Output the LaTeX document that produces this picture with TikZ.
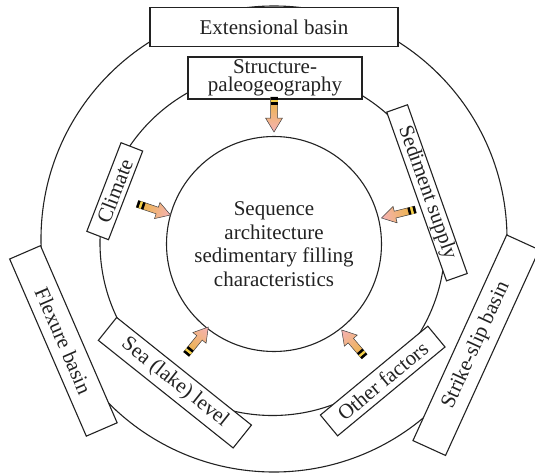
\documentclass[tikz,border=0pt]{standalone}
\usepackage{fontspec}
\setmainfont{Liberation Serif}
\definecolor{arrgold}{HTML}{EBB43A}
\definecolor{arrpeach}{HTML}{F8C48C}
\definecolor{arrpink}{HTML}{F5B2B6}
\definecolor{bandyel}{HTML}{F3D04A}
\definecolor{inkc}{HTML}{222222}
\newcommand\fatarrow[2]{%
  \begin{scope}[transform canvas={shift={(#1)},rotate=#2}]
    \shadedraw[left color=arrgold, middle color=arrpeach, right color=arrpink,
      draw=black!75, line width=0.5pt]
      (0,0) -- (-14,8.5) -- (-14,3.5) -- (-35,3.5) -- (-35,-3.5)
      -- (-14,-3.5) -- (-14,-8.5) -- cycle;
    \fill[black] (-35,-3.5) rectangle (-32.5,3.5);
    \fill[bandyel] (-32.5,-3.5) rectangle (-30,3.5);
    \fill[black] (-30,-3.5) rectangle (-27.5,3.5);
  \end{scope}}
\begin{document}
\begin{tikzpicture}[x=1pt,y=-1pt,
  ring/.style={circle, draw=inkc, line width=1.1pt, inner sep=0pt},
  box/.style={draw=inkc, fill=white, line width=1.1pt, inner sep=0pt,
    text=inkc, align=center, font=\fontsize{21}{18.5}\selectfont},
  coretext/.style={text=inkc, align=center, font=\fontsize{21}{23.7}\selectfont}]
\useasboundingbox (0,0) rectangle (535,474);
\clip (0,0) rectangle (535,474);
% rings
\node[ring, minimum size=466pt] (outer) at (274,239) {};
\node[ring, minimum size=345pt] (middle) at (272.5,243) {};
\node[ring, coretext, minimum size=215pt] (core) at (274,244)
  {Sequence\\architecture\\sedimentary filling\\characteristics};
% outer boxes
\node[box, minimum width=248pt, minimum height=39pt] (ext) at (274,27) {Extensional basin};
\node[box, rotate=-66.6, minimum width=193pt, minimum height=33.6pt] (flex) at (63.4,340.9) {Flexure basin};
\node[box, rotate=65.5, minimum width=226pt, minimum height=35.8pt] (strike) at (476.1,345.2) {Strike-slip basin};
% inner factor boxes
\node[box, minimum width=174pt, minimum height=42pt] (struct) at (275,78) {Structure-\\paleogeography};
\node[box, rotate=68.9, minimum width=95pt, minimum height=23.2pt] (clim) at (114.75,191.2) {Climate};
\node[box, rotate=-70.5, minimum width=179pt, minimum height=22pt] (sed) at (427,192.8) {Sediment supply};
\node[box, rotate=-38.6, minimum width=172.5pt, minimum height=29.3pt] (sea) at (174.9,382.7) {Sea (lake) level};
\node[box, rotate=39.6, minimum width=139.4pt, minimum height=27pt] (oth) at (382.7,381) {Other factors};
% arrow tips on the core circle
\coordinate (tStruct) at (274,132);
\coordinate (tClim) at (170.5,215);
\coordinate (tSed) at (381.5,218);
\coordinate (tSea) at (208.3,327);
\coordinate (tOth) at (341.7,330);
\fatarrow{tStruct}{-90}
\fatarrow{tClim}{-18.6}
\fatarrow{tSed}{194}
\fatarrow{tSea}{51}
\fatarrow{tOth}{130.6}
\end{tikzpicture}
\end{document}
